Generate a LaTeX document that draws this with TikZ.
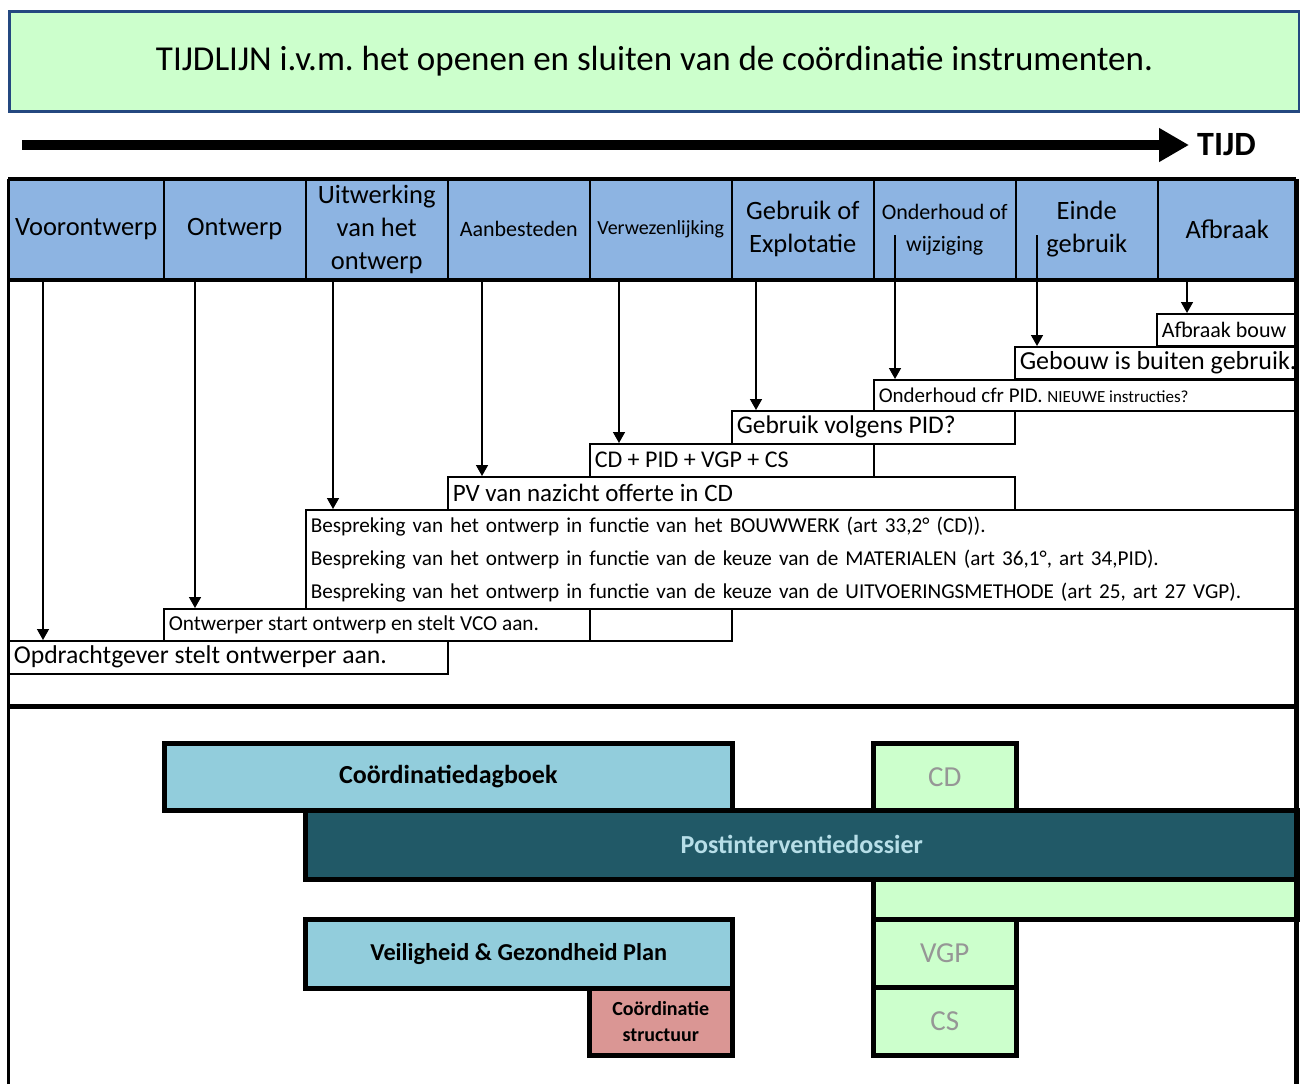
\documentclass[tikz,border=0pt]{standalone}
\usepackage{fontspec}
\setmainfont{Carlito}
\usetikzlibrary{arrows.meta}
\frenchspacing
\definecolor{titlegreen}{HTML}{CCFFCC}
\definecolor{titleblue}{RGB}{36,72,128}
\definecolor{hdrblue}{HTML}{8DB4E2}
\definecolor{docblue}{HTML}{92CDDC}
\definecolor{piddark}{HTML}{215967}
\definecolor{pidtext}{HTML}{B7DEE8}
\definecolor{structred}{HTML}{DA9694}
\definecolor{grtext}{HTML}{969696}
\newcommand\fsz[2]{\fontsize{#1}{#2}\selectfont}
\newcommand\lbx[2]{\makebox[#1pt][l]{#2}}
\begin{document}
\begin{tikzpicture}[x=1pt,y=-1pt,
  hcell/.style={draw, line width=1.5pt, fill=hdrblue, anchor=north west, minimum height=99pt, inner sep=0pt, align=center},
  tbox/.style={draw, line width=1.5pt, fill=white, anchor=north west, inner sep=0pt, inner xsep=5pt},
  lbox/.style={draw, line width=4.5pt, anchor=north west, inner sep=0pt, align=center, font=\bfseries\fsz{26}{28}},
  gbox/.style={lbox, fill=titlegreen, minimum width=143pt, font=\fsz{29}{32}, text=grtext},
  arr/.style={line width=1.5pt, -{Triangle[length=11pt 0,width=12pt 0]}}]
\useasboundingbox (0,0) rectangle (1300,1084);
% title
\node[draw=titleblue, line width=3pt, fill=titlegreen, anchor=north west, minimum width=1290pt, minimum height=100pt, inner sep=0pt, font=\fsz{35}{40}] (title) at (8,10) {TIJDLIJN i.v.m. het openen en sluiten van de coördinatie instrumenten.};
% time arrow
\coordinate (t0) at (22,145);
\coordinate (t1) at (1189,145);
\draw[line width=10pt, -{Triangle[length=30pt 0,width=32pt 0]}] (t0) -- (t1);
\node[anchor=west, inner sep=0pt, font=\bfseries\fsz{34}{38}] (tijd) at (1197,145) {TIJD};
% header cells
\node[hcell, minimum width=155pt, font=\fsz{26.5}{33}] (h1) at (8,179) {Voorontwerp};
\node[hcell, minimum width=142pt, font=\fsz{26.5}{33}] (h2) at (163,179) {Ontwerp};
\node[hcell, minimum width=142pt, font=\fsz{26.5}{33}] (h3) at (305,179) {Uitwerking\\van het\\ontwerp};
\node[hcell, minimum width=142pt, font=\fsz{22}{33}] (h4) at (447,179) {Aanbesteden};
\node[hcell, minimum width=142pt, font=\fsz{20}{33}] (h5) at (589,179) {Verwezenlijking};
\node[hcell, minimum width=142pt, font=\fsz{26.5}{33}] (h6) at (731,179) {Gebruik of\\Explotatie};
\node[hcell, minimum width=142pt, font=\fsz{22}{32}] (h7) at (873,179) {Onderhoud of\\wijziging};
\node[hcell, minimum width=142pt, font=\fsz{26.5}{33}] (h8) at (1015,179) {Einde\\gebruik};
\node[hcell, minimum width=139pt, font=\fsz{26.5}{33}] (h9) at (1157,179) {Afbraak};
% body boxes
\node[tbox, minimum height=32pt, font=\fsz{22}{24}] (b9) at (1156,313) {\lbx{130}{Afbraak bouw}};
\node[tbox, minimum height=32pt, font=\fsz{26}{28}] (b8) at (1014,346) {\lbx{272}{Gebouw is buiten gebruik.}};
\node[tbox, minimum height=31pt, font=\fsz{21}{24}] (b7) at (873,379) {\lbx{413}{Onderhoud cfr PID. {\fsz{17}{18}NIEUWE instructies?}}};
\node[tbox, minimum height=33pt, font=\fsz{25.5}{28}] (b6) at (731,410) {\lbx{273}{Gebruik volgens PID?}};
\node[tbox, minimum height=33pt, font=\fsz{24}{26}] (b5) at (589,443) {\lbx{274}{CD + PID + VGP + CS}};
\node[tbox, minimum height=33pt, font=\fsz{25}{27}] (b4) at (447,476) {\lbx{557}{PV van nazicht offerte in CD}};
\node[tbox, minimum height=99pt, text width=981pt, align=left, font=\fsz{21.2}{33}] (b3) at (305,509) {Bespreking van het ontwerp in functie van het BOUWWERK (art 33,2° (CD)).\\Bespreking van het ontwerp in functie van de keuze van de MATERIALEN (art 36,1°, art 34,PID).\\Bespreking van het ontwerp in functie van de keuze van de UITVOERINGSMETHODE (art 25, art 27 VGP).};
\node[tbox, minimum height=32pt, font=\fsz{21.3}{23}] (b2) at (163,608) {\lbx{416}{Ontwerper start ontwerp en stelt VCO aan.}};
\node[tbox, minimum height=32pt] (b2x) at (589,608) {\lbx{132}{}};
\node[tbox, minimum height=33pt, font=\fsz{25.7}{28}] (b1) at (8,640) {\lbx{429}{Opdrachtgever stelt ontwerper aan.}};
% arrows
\coordinate (s7) at (895,235);
\coordinate (s8) at (1037,235);
\draw[arr] (h1.south -| 43,0) -- (b1.north -| 43,0);
\draw[arr] (h2.south -| 195,0) -- (b2.north -| 195,0);
\draw[arr] (h3.south -| 333,0) -- (b3.north -| 333,0);
\draw[arr] (h4.south -| 482,0) -- (b4.north -| 482,0);
\draw[arr] (h5.south -| 619,0) -- (b5.north -| 619,0);
\draw[arr] (h6.south -| 756,0) -- (b6.north -| 756,0);
\draw[arr] (s7) -- (b7.north -| s7);
\draw[arr] (s8) -- (b8.north -| s8);
\draw[arr] (h9.south -| 1187,0) -- (b9.north -| 1187,0);
% frame
\coordinate (fbl) at (8,1084);
\coordinate (ftl) at (8,179);
\coordinate (ftr) at (1296,179);
\coordinate (fbr) at (1296,1084);
\coordinate (sepl) at (8,706);
\coordinate (sepr) at (1296,706);
\draw[line width=3pt] (fbl) -- (ftl);
\draw[line width=4pt] (ftl) -- (ftr);
\draw[line width=4pt] (h1.south west) -- (h9.south east);
\draw[line width=5pt] (sepl) -- (sepr);
% lower boxes
\node[lbox, fill=docblue, minimum width=568pt, minimum height=67pt] (cdag) at (162,741) {Coördinatiedagboek};
\node[gbox, minimum height=67pt] (cd) at (871,741) {CD};
\node[lbox, fill=piddark, minimum width=993pt, minimum height=69pt, text=pidtext] (pid) at (303,808) {Postinterventiedossier};
\node[lbox, fill=titlegreen, minimum width=425pt, minimum height=40pt] (band) at (871,877) {};
\node[gbox, minimum height=68pt] (vgp) at (871,917) {VGP};
\node[gbox, minimum height=68pt] (cs) at (871,985) {CS};
\node[lbox, fill=docblue, minimum width=427pt, minimum height=69pt, font=\bfseries\fsz{24.3}{26}] (vgplan) at (303,917) {Veiligheid \& Gezondheid Plan};
\node[lbox, fill=structred, minimum width=143pt, minimum height=67pt, font=\bfseries\fsz{20}{26}] (cstruct) at (587,986) {Coördinatie\\structuur};
\draw[line width=5pt] (ftr) -- (fbr);
\end{tikzpicture}
\end{document}
